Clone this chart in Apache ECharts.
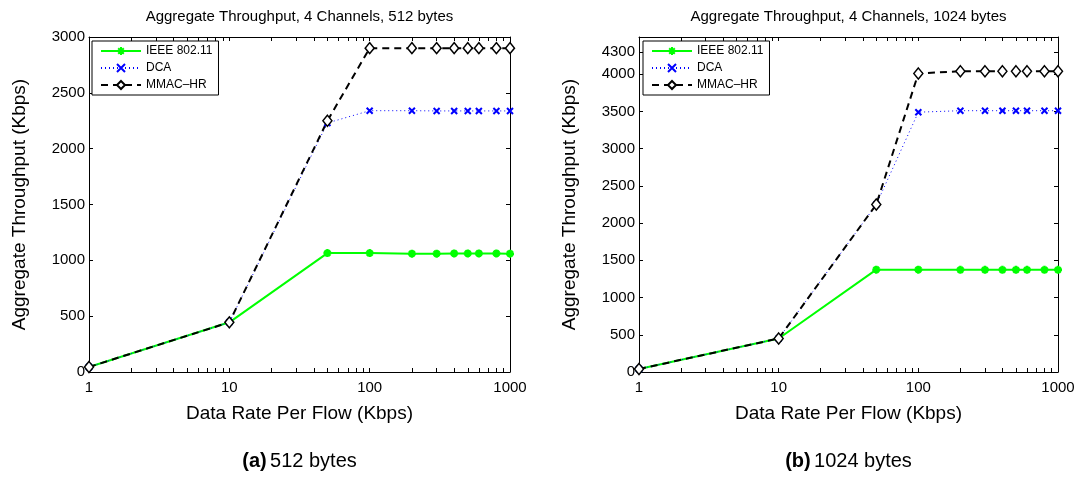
<!DOCTYPE html>
<html>
<head>
<meta charset="utf-8">
<script src="https://cdn.jsdelivr.net/npm/echarts@6/dist/echarts.min.js"></script>
<style>
html,body{margin:0;padding:0;background:#fff;}
#c{width:1079px;height:477px;}
</style>
</head>
<body>
<div id="c"></div>
<script>
// ---- data ----
const rates = [1, 10, 50, 100, 200, 300, 400, 500, 600, 800, 1000];
const ieee512 = [45, 445, 1065, 1065, 1060, 1060, 1062, 1062, 1062, 1062, 1060];
const dca512 = [45, 445, 2230, 2340, 2340, 2338, 2338, 2338, 2338, 2338, 2338];
const mmac512 = [45, 445, 2250, 2900, 2900, 2900, 2900, 2900, 2900, 2900, 2900];
const ieee1024 = [40, 450, 1375, 1375, 1372, 1372, 1372, 1372, 1372, 1372, 1372];
const dca1024 = [40, 450, 2250, 3490, 3510, 3510, 3510, 3510, 3510, 3510, 3510];
const mmac1024 = [40, 450, 2250, 4010, 4040, 4040, 4040, 4040, 4040, 4040, 4040];
const xLabels = [1, 10, 100, 1000];
const xTicks = [1,2,3,4,5,6,7,8,9,10,20,30,40,50,60,70,80,90,100,200,300,400,500,600,700,800,900,1000];
const yTicksA = [0, 500, 1000, 1500, 2000, 2500, 3000];
const yTicksB = [0, 500, 1000, 1500, 2000, 2500, 3000, 3500, 4000, 4300];
const seriesNames = ['IEEE 802.11', 'DCA', 'MMAC\u2013HR'];
const titles = ['Aggregate Throughput, 4 Channels, 512 bytes', 'Aggregate Throughput, 4 Channels, 1024 bytes'];
const captionTags = ['(a)', '(b)'];
const captionTexts = ['512 bytes', '1024 bytes'];
const xName = 'Data Rate Per Flow (Kbps)';
const yName = 'Aggregate Throughput (Kbps)';

const FONT = 'Liberation Sans, Arial, Helvetica, sans-serif';
const grids = [
  {left: 89, top: 37, width: 421, height: 335},
  {left: 639, top: 37, width: 419, height: 335}
];
const plain = v => String(Math.round(v));

function xAx(gi, pos) {
  return {
    type: 'log', logBase: 10, gridIndex: gi, position: pos, min: 1, max: 1000,
    name: pos === 'bottom' ? xName : '', nameLocation: 'middle', nameGap: 32,
    nameTextStyle: {fontFamily: FONT, fontSize: 19, color: '#000'},
    axisLine: {show: true, onZero: false, lineStyle: {color: '#000', width: 1}},
    axisTick: {show: true, inside: true, length: 4, customValues: xTicks, lineStyle: {color: '#000', width: 1}},
    axisLabel: {show: pos === 'bottom', customValues: xLabels, formatter: plain, margin: 8, fontFamily: FONT, fontSize: 15, color: '#000'},
    splitLine: {show: false}, minorTick: {show: false}
  };
}
function yAx(gi, pos, max, ticks) {
  return {
    type: 'value', gridIndex: gi, position: pos, min: 0, max: max,
    name: pos === 'left' ? yName : '', nameLocation: 'middle', nameGap: 60,
    nameTextStyle: {fontFamily: FONT, fontSize: 19, color: '#000'},
    axisLine: {show: true, onZero: false, lineStyle: {color: '#000', width: 1}},
    axisTick: {show: true, inside: true, length: 4, customValues: ticks, lineStyle: {color: '#000', width: 1}},
    axisLabel: {show: pos === 'left', customValues: ticks, formatter: plain, margin: 4, fontFamily: FONT, fontSize: 15, color: '#000'},
    splitLine: {show: false}
  };
}

const asterisk = 'path://M5,0L5,10M0,5L10,5M1.5,1.5L8.5,8.5M1.5,8.5L8.5,1.5';
const cross = 'path://M0,0L10,10M0,10L10,0';

function mk(vals) { return rates.map((r, i) => [r, vals[i]]); }
function seriesFor(gi, ieee, dca, mmac) {
  return [
    {name: seriesNames[0], type: 'line', xAxisIndex: gi * 2, yAxisIndex: gi * 2, data: mk(ieee), clip: false,
     symbol: asterisk, symbolSize: 8,
     lineStyle: {color: '#00ff00', width: 2, type: 'solid'},
     itemStyle: {color: '#00ff00', borderColor: '#00ff00', borderWidth: 2.5}, animation: false},
    {name: seriesNames[1], type: 'line', xAxisIndex: gi * 2, yAxisIndex: gi * 2, data: mk(dca), clip: false,
     symbol: cross, symbolSize: 6,
     lineStyle: {color: '#0000ff', width: 1, type: [1, 3]},
     itemStyle: {color: '#0000ff', borderColor: '#0000ff', borderWidth: 2}, animation: false},
    {name: seriesNames[2], type: 'line', xAxisIndex: gi * 2, yAxisIndex: gi * 2, data: mk(mmac), clip: false,
     symbol: 'diamond', symbolSize: [9, 11],
     lineStyle: {color: '#000', width: 2, type: [7, 5]},
     itemStyle: {color: '#fff', borderColor: '#000', borderWidth: 1.5}, animation: false}
  ];
}

function legendAt(left) {
  return {
    orient: 'vertical', left: left, top: 41, itemWidth: 40, itemHeight: 10, itemGap: 5,
    padding: [4, 6, 4, 8], borderColor: '#000', borderWidth: 1, backgroundColor: '#fff',
    textStyle: {fontFamily: FONT, fontSize: 12, color: '#000'},
    data: seriesNames, selectedMode: false
  };
}

const graphics = [];
grids.forEach((g, i) => {
  const cx = g.left + g.width / 2;
  graphics.push({type: 'text', x: cx, y: 17, style: {text: titles[i], font: '15px ' + FONT, fill: '#000', textAlign: 'center', textVerticalAlign: 'middle'}});
  graphics.push({type: 'text', x: cx, y: 461, style: {
    text: '{b|' + captionTags[i] + '} {n|' + captionTexts[i] + '}', textAlign: 'center', textVerticalAlign: 'middle', fill: '#000',
    rich: {b: {fontFamily: FONT, fontSize: 20, fontWeight: 'bold', fill: '#000'}, n: {fontFamily: FONT, fontSize: 20, fill: '#000'}}
  }});
});

const chart = echarts.init(document.getElementById('c'), null, {renderer: 'canvas'});
chart.setOption({
  animation: false,
  backgroundColor: '#fff',
  grid: grids.map(g => Object.assign({containLabel: false}, g)),
  xAxis: [xAx(0, 'bottom'), xAx(0, 'top'), xAx(1, 'bottom'), xAx(1, 'top')],
  yAxis: [yAx(0, 'left', 3000, yTicksA), yAx(0, 'right', 3000, yTicksA), yAx(1, 'left', 4500, yTicksB), yAx(1, 'right', 4500, yTicksB)],
  legend: [legendAt(92), legendAt(643)],
  series: seriesFor(0, ieee512, dca512, mmac512).concat(seriesFor(1, ieee1024, dca1024, mmac1024)),
  graphic: graphics
});
</script>
</body>
</html>
